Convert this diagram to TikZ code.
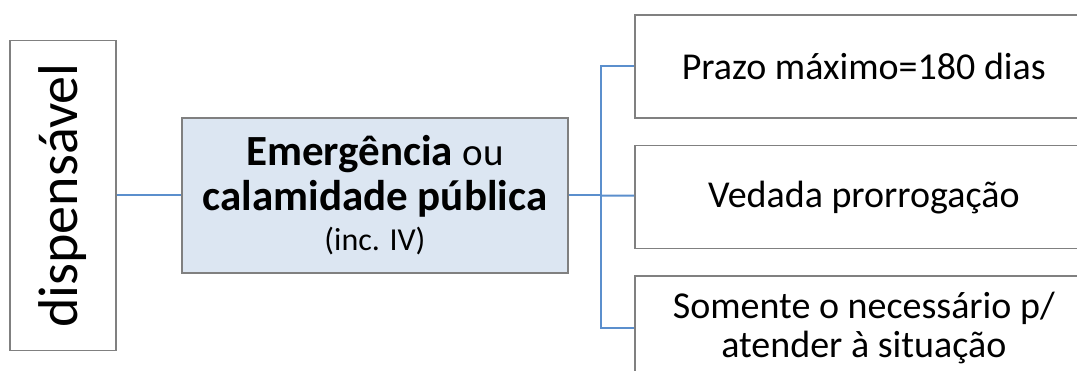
\documentclass[tikz,border=0pt]{standalone}
\usepackage{fontspec}
\setmainfont{Carlito}
\usepackage{xcolor}
\usetikzlibrary{positioning}

\definecolor{linkblue}{RGB}{91,143,205}
\definecolor{emergfill}{RGB}{220,230,242}
\definecolor{boxgray}{RGB}{128,128,128}

\begin{document}
\begin{tikzpicture}[x=1pt,y=1pt,
            box/.style={rectangle,draw=boxgray,line width=1.6pt,align=center,inner sep=0pt},
            item/.style={box,minimum width=458pt,minimum height=103pt,font=\fontsize{38}{39}\selectfont},
            link/.style={draw=linkblue,line width=2pt}]
            \useasboundingbox (0,0) rectangle (1077,-371);
            \node[box,rotate=90,minimum width=310pt,minimum height=106pt,font=\fontsize{56}{64}\selectfont] (disp) at (63,-195.5) {dispensável};
            \node[box,fill=emergfill,minimum width=386pt,minimum height=155pt,font=\fontsize{43}{45}\selectfont] (emerg) at (375,-195.5) {\textbf{Emergência} {\fontsize{39}{45}\selectfont ou}\\\textbf{calamidade pública}\\[-5pt]{\fontsize{32}{36}\selectfont (inc. IV)}};
            \node[item,anchor=west] (prazo) at (634,-66.5) {Prazo máximo=180 dias};
            \node[item,below=26pt of prazo] (vedada) {Vedada prorrogação};
            \node[item,below=26pt of vedada] (somente) {Somente o necessário p/\\atender à situação};
            \coordinate (split) at (601,-195.5);
            \draw[link] (disp) -- (emerg);
            \draw[link] (emerg) -- (split);
            \draw[link] (split) |- (prazo.west);
            \draw[link] (split) -- (vedada);
            \draw[link] (split) |- (somente.west);
        \end{tikzpicture}
\end{document}
